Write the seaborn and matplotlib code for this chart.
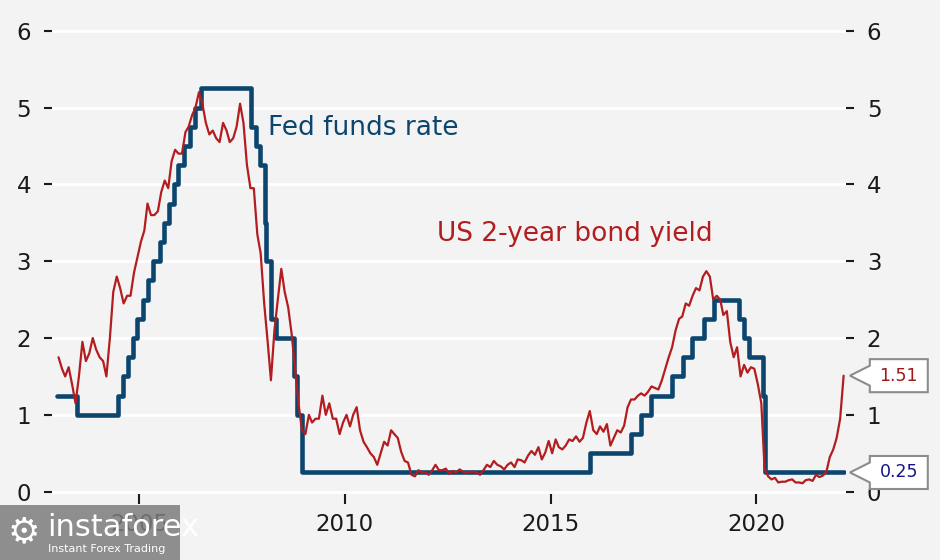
import numpy as np
import pandas as pd
import matplotlib
matplotlib.use("Agg")
import matplotlib.pyplot as plt
from matplotlib.patches import Polygon, Rectangle
from matplotlib.transforms import blended_transform_factory
import seaborn as sns

# Fed funds target rate (upper bound): date of each change and the new level
ffr_dates = ["2003-01-01", "2003-06-25", "2004-06-30", "2004-08-10", "2004-09-21",
             "2004-11-10", "2004-12-14", "2005-02-02", "2005-03-22", "2005-05-03",
             "2005-06-30", "2005-08-09", "2005-09-20", "2005-11-01", "2005-12-13",
             "2006-01-31", "2006-03-28", "2006-05-10", "2006-06-29", "2007-09-18",
             "2007-10-31", "2007-12-11", "2008-01-22", "2008-01-30", "2008-03-18",
             "2008-04-30", "2008-10-08", "2008-10-29", "2008-12-16", "2015-12-16",
             "2016-12-14", "2017-03-15", "2017-06-14", "2017-12-13", "2018-03-21",
             "2018-06-13", "2018-09-26", "2018-12-19", "2019-07-31", "2019-09-18",
             "2019-10-30", "2020-03-03", "2020-03-15", "2022-02-18"]
ffr_values = [1.25, 1.00, 1.25, 1.50, 1.75,
              2.00, 2.25, 2.50, 2.75, 3.00,
              3.25, 3.50, 3.75, 4.00, 4.25,
              4.50, 4.75, 5.00, 5.25, 4.75,
              4.50, 4.25, 3.50, 3.00, 2.25,
              2.00, 1.50, 1.00, 0.25, 0.50,
              0.75, 1.00, 1.25, 1.50, 1.75,
              2.00, 2.25, 2.50, 2.25, 2.00,
              1.75, 1.25, 0.25, 0.25]

# US 2-year yield, one reading per month from Jan 2003 to Feb 2022
y2_first_month = "2003-01-01"
y2_values = [
    1.75, 1.60, 1.50, 1.62, 1.40, 1.15, 1.50, 1.95, 1.70, 1.80, 2.00, 1.85,  # 2003
    1.75, 1.70, 1.50, 2.00, 2.60, 2.80, 2.65, 2.45, 2.55, 2.55, 2.85, 3.05,  # 2004
    3.25, 3.40, 3.75, 3.60, 3.60, 3.65, 3.90, 4.05, 3.95, 4.30, 4.45, 4.40,  # 2005
    4.40, 4.68, 4.75, 4.90, 5.00, 5.20, 5.05, 4.80, 4.65, 4.70, 4.60, 4.55,  # 2006
    4.80, 4.70, 4.55, 4.60, 4.75, 5.05, 4.80, 4.25, 3.95, 3.95, 3.35, 3.10,  # 2007
    2.45, 1.95, 1.45, 2.10, 2.50, 2.90, 2.60, 2.40, 2.05, 1.60, 1.15, 0.80,  # 2008
    0.75, 1.00, 0.90, 0.95, 0.95, 1.25, 1.00, 1.15, 0.95, 0.95, 0.75, 0.90,  # 2009
    1.00, 0.85, 1.00, 1.10, 0.80, 0.65, 0.58, 0.50, 0.45, 0.35, 0.50, 0.65,  # 2010
    0.60, 0.80, 0.75, 0.70, 0.52, 0.40, 0.38, 0.22, 0.20, 0.28, 0.25, 0.25,  # 2011
    0.22, 0.28, 0.35, 0.28, 0.28, 0.30, 0.23, 0.27, 0.25, 0.29, 0.26, 0.25,  # 2012
    0.26, 0.26, 0.25, 0.22, 0.28, 0.35, 0.32, 0.40, 0.35, 0.33, 0.29, 0.35,  # 2013
    0.38, 0.32, 0.42, 0.41, 0.38, 0.47, 0.53, 0.48, 0.58, 0.42, 0.51, 0.66,  # 2014
    0.50, 0.68, 0.58, 0.55, 0.60, 0.68, 0.66, 0.72, 0.65, 0.70, 0.90, 1.05,  # 2015
    0.80, 0.75, 0.85, 0.78, 0.88, 0.60, 0.70, 0.80, 0.77, 0.86, 1.10, 1.20,  # 2016
    1.20, 1.25, 1.28, 1.25, 1.30, 1.37, 1.35, 1.33, 1.45, 1.60, 1.75, 1.88,  # 2017
    2.10, 2.25, 2.28, 2.45, 2.42, 2.55, 2.65, 2.62, 2.80, 2.87, 2.80, 2.50,  # 2018
    2.55, 2.50, 2.30, 2.35, 1.95, 1.75, 1.88, 1.50, 1.65, 1.55, 1.62, 1.60,  # 2019
    1.40, 1.15, 0.30, 0.20, 0.16, 0.18, 0.12, 0.13, 0.13, 0.15, 0.16, 0.12,  # 2020
    0.12, 0.11, 0.15, 0.16, 0.14, 0.22, 0.19, 0.21, 0.26, 0.45, 0.55, 0.70,  # 2021
    0.95, 1.51,                                                              # 2022
]

year_ticks = [2005, 2010, 2015, 2020]
y_ticks = [0, 1, 2, 3, 4, 5, 6]
last_y2 = "1.51"
last_ffr = "0.25"

ffr = pd.DataFrame({"date": pd.to_datetime(ffr_dates), "rate": ffr_values})
y2 = pd.DataFrame({
    "date": pd.date_range(y2_first_month, periods=len(y2_values), freq="MS") + pd.Timedelta(days=14),
    "rate": y2_values,
})

BG = "#f3f3f3"
BLUE = "#0c466e"
RED = "#b31d1f"

sns.set_theme(style="white", rc={"axes.facecolor": BG, "figure.facecolor": BG})
plt.rcParams["font.family"] = ["DejaVu Sans"]

fig = plt.figure(figsize=(9.4, 5.6), dpi=100)
ax = fig.add_axes([52 / 940, 1 - 494 / 560, 794 / 940, 471 / 560])

sns.lineplot(data=ffr, x="date", y="rate", ax=ax, color=BLUE, lw=3.3,
             drawstyle="steps-post", zorder=3)
sns.lineplot(data=y2, x="date", y="rate", ax=ax, color=RED, lw=1.6, zorder=4)

ax.set_xlim(pd.Timestamp("2002-11-18"), pd.Timestamp("2022-03-08"))
ax.set_ylim(-0.03, 6.1)
ax.set_xlabel("")
ax.set_ylabel("")
for s in ax.spines.values():
    s.set_visible(False)

ax.set_yticks(y_ticks)
ax.set_yticklabels([str(t) for t in y_ticks])
ax.set_xticks([pd.Timestamp(f"{y}-01-01") for y in year_ticks])
ax.set_xticklabels([str(y) for y in year_ticks])
ax.yaxis.grid(True, color="white", lw=2)
ax.xaxis.grid(False)
ax.tick_params(axis="y", which="both", left=True, right=True, labelleft=True,
               labelright=True, length=6, width=1.5, pad=9, labelsize=16.5,
               colors="#1a1a1a", direction="out")
ax.tick_params(axis="x", bottom=True, length=7, width=1.5, pad=7, labelsize=16.5,
               colors="#1a1a1a", direction="out")

ax.text(pd.Timestamp("2008-02-20"), 4.73, "Fed funds rate", color=BLUE,
        fontsize=19, va="center", ha="left", zorder=5)
ax.text(pd.Timestamp("2012-04-01"), 3.35, "US 2-year bond yield", color=RED,
        fontsize=19, va="center", ha="left", zorder=5)

# value callouts on the right axis
tr = blended_transform_factory(ax.transAxes, ax.transData)


def callout(v, txt, color):
    tip, left, right = 1.005, 1.030, 1.103
    hh, notch = 0.215, 0.13
    pts = [(tip, v), (left, v + notch), (left, v + hh), (right, v + hh),
           (right, v - hh), (left, v - hh), (left, v - notch)]
    ax.add_patch(Polygon(pts, closed=True, transform=tr, facecolor="white",
                         edgecolor="#8c8c8c", lw=1.5, clip_on=False, zorder=10))
    ax.text((left + right) / 2, v, txt, transform=tr, color=color, fontsize=12.5,
            ha="center", va="center", zorder=11, clip_on=False)


callout(float(last_y2), last_y2, "#a01818")
callout(float(last_ffr), last_ffr, "#14148a")

# watermark
fig.add_artist(Rectangle((0, 0), 180 / 940, 55 / 560, transform=fig.transFigure,
                         facecolor="#7d7d7d", alpha=0.85, edgecolor="none", zorder=20))
fig.text(8 / 940, 28 / 560, "\u2699", color="white", fontsize=26, va="center",
         ha="left", zorder=21)
fig.text(47 / 940, 33 / 560, "instaforex", color="white", fontsize=22,
         va="center", ha="left", zorder=21)
fig.text(48 / 940, 11 / 560, "Instant Forex Trading", color="white", fontsize=8,
         va="center", ha="left", zorder=21)

fig.savefig("out.png", dpi=100, facecolor=BG)
